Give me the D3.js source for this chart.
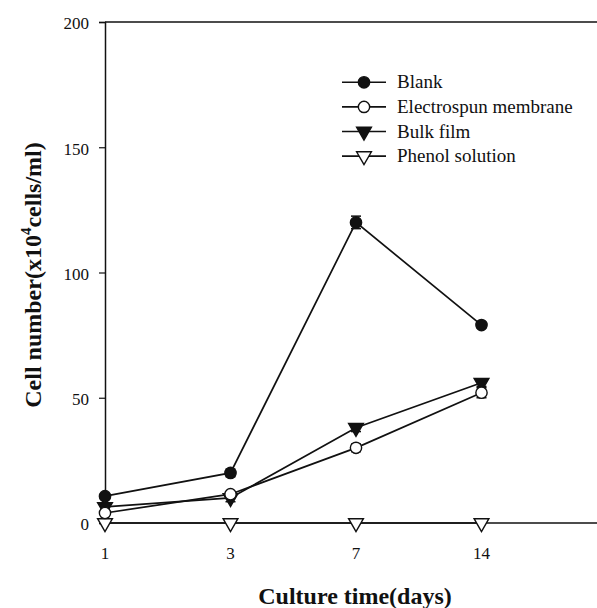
<!DOCTYPE html>
<html>
<head>
<meta charset="utf-8">
<script src="https://cdn.jsdelivr.net/npm/d3@7"></script>
<style>
  body { margin: 0; background: #fff; }
  svg { display: block; }
</style>
</head>
<body>
<div id="chart"></div>
<script>
// data
var days = ["1", "3", "7", "14"];
var yTicks = [0, 50, 100, 150, 200];
var seriesNames = ["Blank", "Electrospun membrane", "Bulk film", "Phenol solution"];
var blank = [10.7, 20, 120, 79];
var blankErr = [1, 1.5, 2.5, 1.2];
var electrospun = [4, 11.5, 30, 52];
var electrospunErr = [1, 1, 1.5, 2];
var bulkFilm = [6.4, 10, 38, 56];
var bulkFilmErr = [1, 1.5, 1.5, 1.5];
var phenol = [0, 0, 0, 0];
var phenolErr = [0, 0, 0, 0];

var serif = "'Times New Roman', 'Liberation Serif', Times, 'DejaVu Serif', serif";
var width = 597, height = 608;

var svg = d3.select("#chart").append("svg")
  .attr("width", width)
  .attr("height", height)
  .attr("font-family", serif);

var x = d3.scaleLinear().domain([0, 4]).range([105, 607]);
var y = d3.scaleLinear().domain([0, 200]).range([523, 22]);

// frame: top line and zero line
svg.append("line")
  .attr("x1", x(0)).attr("x2", x(4))
  .attr("y1", y(200)).attr("y2", y(200))
  .attr("stroke", "#111").attr("stroke-width", 1.5);
svg.append("line")
  .attr("x1", x(0)).attr("x2", x(4))
  .attr("y1", y(0)).attr("y2", y(0))
  .attr("stroke", "#111").attr("stroke-width", 1.5);

var yAxis = svg.append("g")
  .attr("transform", "translate(" + x(0) + ",0)")
  .call(d3.axisLeft(y).tickValues(yTicks).tickSize(6).tickPadding(10));
yAxis.attr("font-family", serif).attr("font-size", 17);
yAxis.select(".domain").attr("stroke", "#111").attr("stroke-width", 1.5);
yAxis.selectAll(".tick line").attr("stroke", "#111").attr("stroke-width", 1.2);
yAxis.selectAll(".tick text").attr("fill", "#111").attr("dy", "0.4em");

// x tick labels
svg.selectAll(".xlab")
  .data(days)
  .enter().append("text")
  .attr("class", "xlab")
  .attr("x", function(d, i) { return x(i); })
  .attr("y", 559)
  .attr("text-anchor", "middle")
  .attr("font-size", 17)
  .attr("fill", "#111")
  .text(function(d) { return d; });

// axis titles
svg.append("text")
  .attr("x", 355).attr("y", 604)
  .attr("text-anchor", "middle")
  .attr("font-size", 24)
  .attr("font-weight", "bold")
  .attr("fill", "#111")
  .text("Culture time(days)");

var yt = svg.append("text")
  .attr("transform", "translate(41,275) rotate(-90)")
  .attr("text-anchor", "middle")
  .attr("font-size", 24)
  .attr("font-weight", "bold")
  .attr("fill", "#111");
yt.append("tspan").text("Cell number(x10");
yt.append("tspan").attr("dy", -10).attr("font-size", 15).text("4");
yt.append("tspan").attr("dy", 10).text("cells/ml)");

// markers
var circle = d3.symbol().type(d3.symbolCircle).size(100);
var triDown = d3.symbol().type(d3.symbolTriangle).size(95);

var series = [
  { name: seriesNames[0], values: blank, err: blankErr, shape: circle, fill: "#111", flip: false },
  { name: seriesNames[1], values: electrospun, err: electrospunErr, shape: circle, fill: "#fff", flip: false },
  { name: seriesNames[2], values: bulkFilm, err: bulkFilmErr, shape: triDown, fill: "#111", flip: true },
  { name: seriesNames[3], values: phenol, err: phenolErr, shape: triDown, fill: "#fff", flip: true }
];

var line = d3.line()
  .x(function(d, i) { return x(i); })
  .y(function(d) { return y(d); });

// draw in reverse so blank ends on top
series.slice().reverse().forEach(function(s) {
  var g = svg.append("g");
  g.append("path")
    .attr("d", line(s.values))
    .attr("fill", "none")
    .attr("stroke", "#111")
    .attr("stroke-width", 1.7);

  s.values.forEach(function(v, i) {
    var e = s.err[i];
    if (e > 0) {
      g.append("line")
        .attr("x1", x(i)).attr("x2", x(i))
        .attr("y1", y(v - e)).attr("y2", y(v + e))
        .attr("stroke", "#111").attr("stroke-width", 1.2);
      [v - e, v + e].forEach(function(c) {
        g.append("line")
          .attr("x1", x(i) - 5).attr("x2", x(i) + 5)
          .attr("y1", y(c)).attr("y2", y(c))
          .attr("stroke", "#111").attr("stroke-width", 1.5);
      });
    }
    g.append("path")
      .attr("d", s.shape())
      .attr("transform", "translate(" + x(i) + "," + y(v) + ")" + (s.flip ? " rotate(180)" : ""))
      .attr("fill", s.fill)
      .attr("stroke", "#111")
      .attr("stroke-width", 1.4);
  });
});

// legend
var legend = svg.append("g");
series.forEach(function(s, i) {
  var ly = 82.3 + i * 24.6;
  legend.append("line")
    .attr("x1", 342).attr("x2", 386)
    .attr("y1", ly).attr("y2", ly)
    .attr("stroke", "#111").attr("stroke-width", 1.6);
  legend.append("path")
    .attr("d", s.shape())
    .attr("transform", "translate(364," + ly + ")" + (s.flip ? " rotate(180)" : ""))
    .attr("fill", s.fill)
    .attr("stroke", "#111")
    .attr("stroke-width", 1.4);
  legend.append("text")
    .attr("x", 397).attr("y", ly + 6)
    .attr("font-size", 19)
    .attr("fill", "#111")
    .text(s.name);
});
</script>
</body>
</html>
